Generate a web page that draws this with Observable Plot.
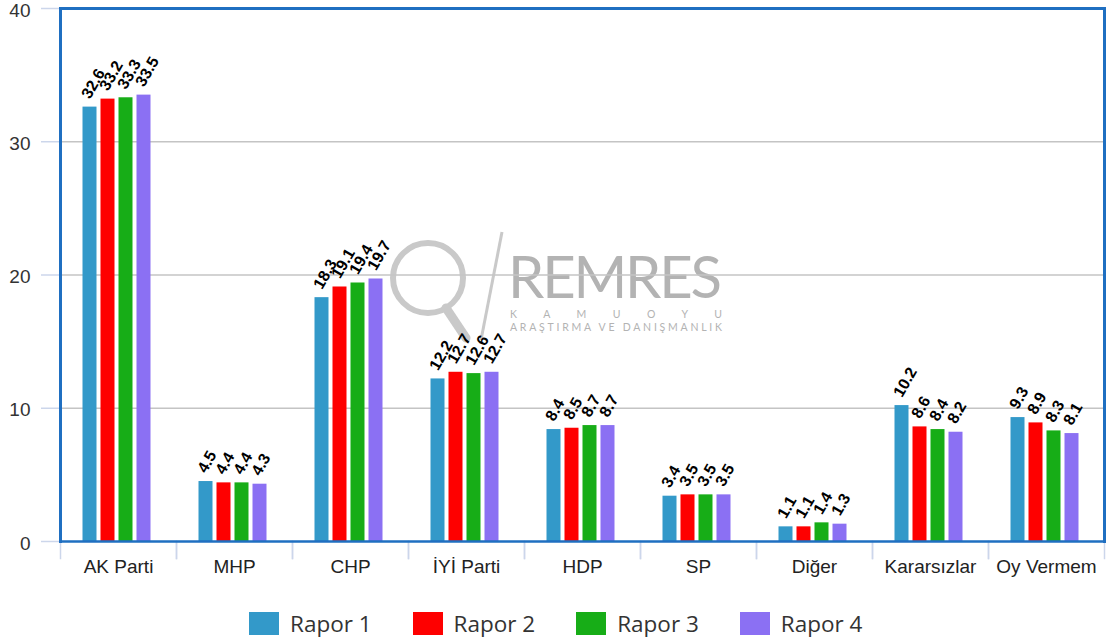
<!DOCTYPE html>
<html><head><meta charset="utf-8">
<script src="https://cdn.jsdelivr.net/npm/d3@7"></script>
<script src="https://cdn.jsdelivr.net/npm/@observablehq/plot@0.6"></script>
<style>
body{margin:0;background:#fff;}
#wrap{position:relative;width:1108px;height:641px;overflow:hidden;}
#wm{position:absolute;left:0;top:0;z-index:0;}
#chart{position:relative;z-index:1;}
#legend{position:absolute;left:249px;top:607px;z-index:2;}
#legend > *{margin:0 !important;}
.lg-swatch{margin-right:41px !important;}
.lg-swatch:last-child{margin-right:0 !important;}
.lg-swatch svg{margin-right:11px !important;}
</style></head><body>
<div id="wrap">
<svg id="wm" width="1108" height="641">
  <g fill="none" stroke="#c9c9c9">
    <circle cx="428" cy="278" r="35" stroke-width="6"/>
    <line x1="446" y1="308" x2="466" y2="338" stroke-width="9" stroke-linecap="round"/>
    <line x1="502" y1="232" x2="481" y2="340" stroke-width="3"/>
  </g>
  <g fill="#b3b3b3" font-family="Lato, 'Open Sans', sans-serif">
    <text x="508" y="298" font-size="58" textLength="214">REMRES</text>
    <text x="510" y="318" font-size="10.5" textLength="212">K A M U O Y U</text>
    <text x="510" y="331" font-size="10.5" textLength="212">ARAŞTIRMA VE DANIŞMANLIK</text>
  </g>
</svg>
<div id="chart"></div>
<div id="legend"></div>
</div>
<script>
const categories = ["AK Parti","MHP","CHP","İYİ Parti","HDP","SP","Diğer","Kararsızlar","Oy Vermem"];
const series = ["Rapor 1","Rapor 2","Rapor 3","Rapor 4"];
const rapor1 = [32.6, 4.5, 18.3, 12.2, 8.4, 3.4, 1.1, 10.2, 9.3];
const rapor2 = [33.2, 4.4, 19.1, 12.7, 8.5, 3.5, 1.1, 8.6, 8.9];
const rapor3 = [33.3, 4.4, 19.4, 12.6, 8.7, 3.5, 1.4, 8.4, 8.3];
const rapor4 = [33.5, 4.3, 19.7, 12.7, 8.7, 3.5, 1.3, 8.2, 8.1];
const colors = ["#3399c9","#fe0000","#17ad17","#8b70f3"];
const yTicks = [0, 10, 20, 30, 40];

const seriesValues = [rapor1, rapor2, rapor3, rapor4];
const data = categories.flatMap((c, i) => series.map((s, j) => ({category: c, series: s, value: seriesValues[j][i]})));

const H = 590, MT = 8, MB = 49;
const chart = Plot.plot({
  width: 1108, height: H,
  marginTop: MT, marginLeft: 59, marginRight: 3, marginBottom: MB,
  style: {fontFamily: "'Liberation Sans', Arial, sans-serif", fontSize: "19px", background: "transparent", overflow: "visible"},
  fx: {domain: categories, padding: 0, label: null},
  x: {domain: series, paddingInner: 0.2, paddingOuter: 1.2, axis: null},
  y: {domain: [0, 40], label: null},
  color: {domain: series, range: colors},
  marks: [
    Plot.gridY(yTicks.filter(d => d > 0 && d < 40), {stroke: "#c4c4c4", strokeOpacity: 1, strokeWidth: 1.3}),
    Plot.axisY(yTicks, {tickSize: 19, tickPadding: 11, stroke: "#ccd6eb", strokeWidth: 1.5, label: null, text: null}),
    Plot.axisY(yTicks, {tickSize: 0, tickPadding: 30, fill: "#333", fontSize: 19, label: null, dy: 2}),
    Plot.frame({anchor: "left", stroke: "#ccd6eb", strokeWidth: 1.5, insetTop: H - MT - MB, insetBottom: -17}),
    Plot.frame({anchor: "right", stroke: "#ccd6eb", strokeWidth: 1.5, insetTop: H - MT - MB, insetBottom: -17}),
    Plot.axisFx({anchor: "bottom", tickSize: 0, tickPadding: 18, fill: "#222", fontSize: 19, label: null}),
    Plot.barY(data, {fx: "category", x: "series", y: "value", fill: "series", dx: -1.5}),
    Plot.text(data, {fx: "category", x: "series", y: "value", text: d => d.value.toFixed(1),
      rotate: -60, textAnchor: "start", dy: -10, dx: -6, fontWeight: "bold", fontSize: 16, fill: "#000"}),
    Plot.frame({anchor: "top", stroke: "#1f6fc1", strokeWidth: 3}),
    Plot.frame({anchor: "left", stroke: "#1f6fc1", strokeWidth: 3, facetAnchor: "left"}),
    Plot.frame({anchor: "right", stroke: "#1f6fc1", strokeWidth: 3, facetAnchor: "right"}),
    Plot.ruleY([0], {stroke: "#1f6fc1", strokeWidth: 2.5})
  ]
});
document.getElementById("chart").appendChild(chart);

const legend = Plot.legend({
  color: {domain: series, range: colors},
  legend: "swatches", swatchWidth: 30, swatchHeight: 23, className: "lg",
  style: {fontFamily: "'Open Sans', sans-serif", fontSize: "22.5px", color: "#333"}
});
document.getElementById("legend").appendChild(legend);
</script>
</body></html>
